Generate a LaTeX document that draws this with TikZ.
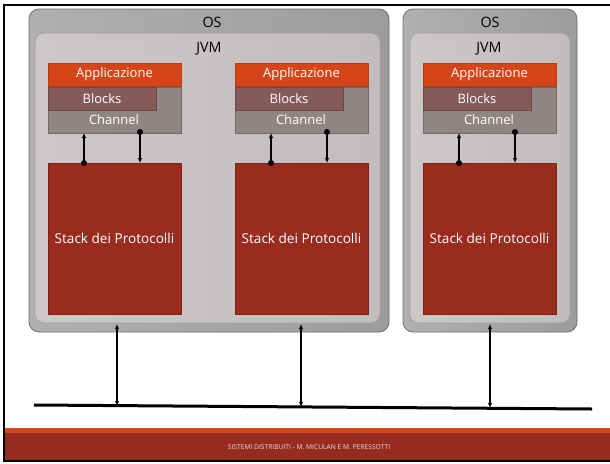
\documentclass[tikz,border=0pt]{standalone}
\usepackage{fontspec}
\setmainfont{Open Sans}
\usetikzlibrary{arrows.meta,calc}
\definecolor{osfill}{HTML}{B0B0B0}
\definecolor{osfilldark}{HTML}{9C9C9C}
\definecolor{osedge}{HTML}{6E6E6E}
\definecolor{jvmfill}{HTML}{CDC8C8}
\definecolor{jvmfilldark}{HTML}{C2BCBC}
\definecolor{jvmedge}{HTML}{A29C9C}
\definecolor{appcol}{HTML}{D4461A}
\definecolor{blockcol}{HTML}{875A5A}
\definecolor{chancol}{HTML}{8F8585}
\definecolor{stackcol}{HTML}{9A2B1F}
\definecolor{footred}{HTML}{982B1F}
\tikzset{
  x=1pt, y=-1pt,
  osbox/.style={draw=osedge, line width=0.8pt, rounded corners=10pt,
    left color=osfill, right color=osfilldark},
  jvmbox/.style={draw=jvmedge, line width=0.6pt, rounded corners=9pt,
    left color=jvmfill, right color=jvmfilldark},
  layerfont/.style={font=\fontsize{13}{15}\selectfont},
  layer/.style={anchor=north west, inner sep=0pt, outer sep=0pt,
    line width=0.5pt, text=white, layerfont},
  title/.style={font=\fontsize{14.3}{16}\selectfont, text=black},
  inner/.style={line width=1.6pt, -{Latex[length=5pt,width=4.5pt]}},
  netlink/.style={line width=1.2pt, {Latex[length=5pt,width=4.5pt]}-{Latex[length=5pt,width=4.5pt]}},
}
% one application stack: name prefix, left x
\newcommand{\protostack}[2]{%
  \node[layer, fill=appcol, draw=appcol!85!black, minimum width=133pt, minimum height=23pt]
    (#1app) at (#2,63) {Applicazione};
  \node[layer, fill=chancol, draw=chancol!80!black, minimum width=133pt, minimum height=46pt]
    (#1chan) at (#2,87) {};
  \node[layer, fill=blockcol, draw=blockcol!80!black, minimum width=108pt, minimum height=23pt]
    (#1blk) at (#2,87) {Blocks};
  \node[text=white, layerfont] (#1chantext) at ($(#2,120)+(66,0)$) {Channel};
  \node[layer, fill=stackcol, draw=stackcol!80!black, minimum width=133pt, minimum height=151pt,
    font=\fontsize{13.6}{16}\selectfont]
    (#1stack) at (#2,163) {Stack dei Protocolli};
  \coordinate (#1up) at ($(#1stack.north west)+(36,0)$);
  \coordinate (#1upend) at ($(#1chan.south west)+(36,0)$);
  \coordinate (#1down) at ($(#1chan.south west)+(92,-1)$);
  \coordinate (#1downend) at ($(#1stack.north west)+(92,0)$);
  \fill (#1up) circle (3pt);
  \fill (#1down) circle (3pt);
  \draw[inner] (#1up) -- (#1upend);
  \draw[inner] (#1down) -- (#1downend);
}
\begin{document}
\begin{tikzpicture}
\useasboundingbox (0,0) rectangle (610,463);
\fill[white] (0,0) rectangle (610,463);

% slide frame
\draw[line width=2pt] (4,462) -- (4,5) -- (610,5);

% first host: one OS with one JVM running two applications
\draw[osbox] (29,9) rectangle (389,332);
\node[title] (os1) at (212,22) {OS};
\draw[jvmbox] (35,33) rectangle (380,323);
\node[title] (jvm1) at (209,49) {JVM};
\protostack{a}{48}
\protostack{b}{235}

% second host
\draw[osbox] (403,9) rectangle (577,332);
\node[title] (os2) at (490,22) {OS};
\draw[jvmbox] (410,33) rectangle (570,323);
\node[title] (jvm2) at (489,49) {JVM};
\protostack{c}{423}

% network
\draw[line width=3pt] (34,405) coordinate (netL) -- (592,409) coordinate (netR);
\coordinate (h1) at (117,324);
\coordinate (h2) at (301,324);
\coordinate (h3) at (490,324);
\coordinate (n1) at (117,406);
\coordinate (n2) at (301,407);
\coordinate (n3) at (490,408);
\draw[netlink] (h1) -- (n1);
\draw[netlink] (h2) -- (n2);
\draw[netlink] (h3) -- (n3);

% footer
\fill[appcol] (5,428) rectangle (610,433);
\fill[footred] (5,433) rectangle (610,460);
\draw[line width=1.5pt] (4,461) -- (610,461);
\node[text=white!88!black, font=\fontsize{6.7}{8}\selectfont] (footer) at (309,447)
  {SISTEMI DISTRIBUITI - M. MICULAN E M. PERESSOTTI};
\end{tikzpicture}
\end{document}
